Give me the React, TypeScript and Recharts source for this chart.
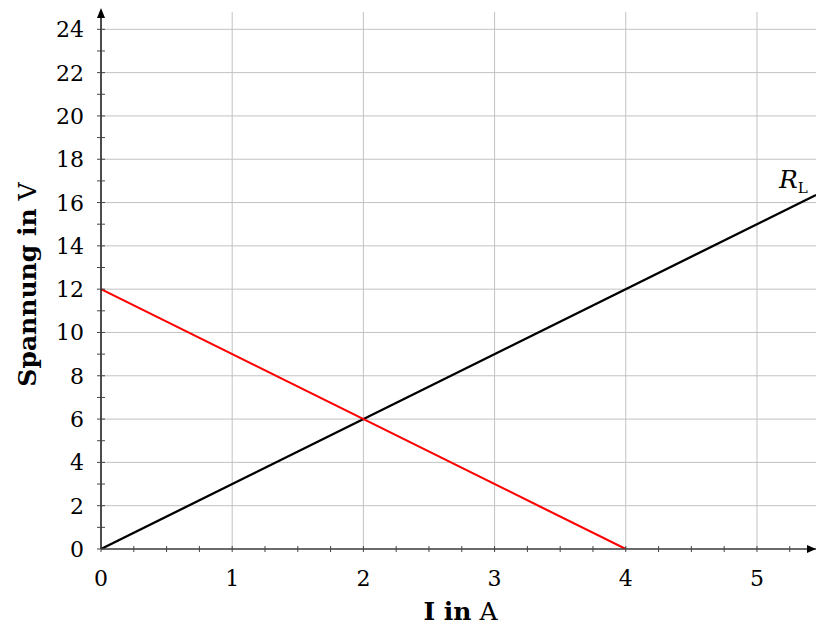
import React from 'react';
import { LineChart, Line, XAxis, YAxis, ReferenceLine, ReferenceDot, Label } from 'recharts';

// Current axis (A): tick positions, labelled ticks and grid positions
const xTickValues = [0, 0.25, 0.5, 0.75, 1, 1.25, 1.5, 1.75, 2, 2.25, 2.5, 2.75, 3, 3.25, 3.5, 3.75, 4, 4.25, 4.5, 4.75, 5, 5.25];
const xLabelValues = [0, 1, 2, 3, 4, 5];
const xGridValues = [1, 2, 3, 4, 5];

// Voltage axis (V)
const yTickValues = [0, 1, 2, 3, 4, 5, 6, 7, 8, 9, 10, 11, 12, 13, 14, 15, 16, 17, 18, 19, 20, 21, 22, 23, 24];
const yLabelValues = [0, 2, 4, 6, 8, 10, 12, 14, 16, 18, 20, 22, 24];
const yGridValues = [2, 4, 6, 8, 10, 12, 14, 16, 18, 20, 22, 24];

const xMax = 5.45;
const yMax = 24.8;

// Load resistor characteristic R_L: U = 3 Ω · I
const loadCurrent = [0, 5.45];
const loadVoltage = [0, 16.35];

// Source characteristic: U0 = 12 V, short-circuit current 4 A
const sourceCurrent = [0, 4];
const sourceVoltage = [12, 0];

const loadData = loadCurrent.map((i, k) => ({ i, u: loadVoltage[k] }));
const sourceData = sourceCurrent.map((i, k) => ({ i, u: sourceVoltage[k] }));

const FONT = '"DejaVu Serif", "Liberation Serif", serif';

const XTick = (props: any) => {
  const { x, y, payload } = props;
  const v = payload.value;
  const labelled = xLabelValues.includes(v);
  return (
    <g>
      <line x1={x} x2={x} y1={y - 3} y2={y + 3} stroke="#444" strokeWidth={1} />
      {labelled && (
        <text x={x} y={y + 37} textAnchor="middle" fontFamily={FONT} fontSize={22} fill="#000">
          {v}
        </text>
      )}
    </g>
  );
};

const YTick = (props: any) => {
  const { x, y, payload } = props;
  const v = payload.value;
  const labelled = yLabelValues.includes(v);
  return (
    <g>
      <line x1={x - 4} x2={x + 4} y1={y} y2={y} stroke="#444" strokeWidth={1} />
      {labelled && (
        <text x={x - 17} y={y + 8} textAnchor="end" fontFamily={FONT} fontSize={22} fill="#000">
          {v}
        </text>
      )}
    </g>
  );
};

const XTitle = (props: any) => {
  const { viewBox } = props;
  const cx = viewBox.x + viewBox.width / 2 + 2;
  return (
    <text x={cx} y={viewBox.y + 71} textAnchor="middle" fontFamily={FONT} fontSize={25} fill="#000">
      <tspan fontWeight="bold">I in</tspan>
      <tspan> A</tspan>
    </text>
  );
};

const YTitle = (props: any) => {
  const { viewBox } = props;
  const cx = 36;
  const cy = viewBox.y + viewBox.height / 2 + 4;
  return (
    <text
      x={cx}
      y={cy}
      textAnchor="middle"
      transform={`rotate(-90 ${cx} ${cy})`}
      fontFamily={FONT}
      fontSize={25}
      fill="#000"
    >
      <tspan fontWeight="bold">Spannung in</tspan>
      <tspan> V</tspan>
    </text>
  );
};

const RightArrow = (props: any) => {
  const { cx, cy } = props;
  return <path d={`M ${cx} ${cy} L ${cx - 9} ${cy - 4} L ${cx - 9} ${cy + 4} Z`} fill="#000" />;
};

const UpArrow = (props: any) => {
  const { cx, cy } = props;
  const tip = cy - 4;
  return <path d={`M ${cx} ${tip} L ${cx - 4} ${tip + 10} L ${cx + 4} ${tip + 10} Z`} fill="#000" />;
};

const LoadLabel = (props: any) => {
  const { viewBox } = props;
  const x = viewBox.x;
  const y = viewBox.y;
  return (
    <text x={x - 37} y={y - 7} fontFamily={FONT} fill="#000">
      <tspan fontStyle="italic" fontSize={25}>R</tspan>
      <tspan fontSize={15} dy={5}>L</tspan>
    </text>
  );
};

export default function App() {
  return (
    <div style={{ position: 'absolute', left: 0, top: 0 }}>
      <LineChart width={816} height={628} margin={{ top: 12, right: 0, bottom: 0, left: 1 }}>
        {xGridValues.map((v) => (
          <ReferenceLine key={`gx${v}`} x={v} stroke="#c2c2c2" strokeWidth={1} />
        ))}
        {yGridValues.map((v) => (
          <ReferenceLine key={`gy${v}`} y={v} stroke="#c2c2c2" strokeWidth={1} />
        ))}
        <XAxis
          type="number"
          dataKey="i"
          domain={[0, xMax]}
          allowDataOverflow
          ticks={xTickValues}
          interval={0}
          height={79}
          tickSize={0}
          tickMargin={0}
          tickLine={false}
          tick={<XTick />}
          axisLine={{ stroke: '#3a3a3a', strokeWidth: 1.6 }}
        >
          <Label content={<XTitle />} />
        </XAxis>
        <YAxis
          type="number"
          dataKey="u"
          domain={[0, yMax]}
          allowDataOverflow
          ticks={yTickValues}
          interval={0}
          width={100}
          tickSize={0}
          tickMargin={0}
          tickLine={false}
          tick={<YTick />}
          axisLine={{ stroke: '#000', strokeWidth: 1.4 }}
        >
          <Label content={<YTitle />} />
        </YAxis>
        <Line
          data={loadData}
          dataKey="u"
          type="linear"
          stroke="#000"
          strokeWidth={2.3}
          dot={false}
          activeDot={false}
          isAnimationActive={false}
        />
        <Line
          data={sourceData}
          dataKey="u"
          type="linear"
          stroke="#ff0000"
          strokeWidth={2.1}
          dot={false}
          activeDot={false}
          isAnimationActive={false}
        />
        <ReferenceDot x={loadCurrent[1]} y={loadVoltage[1]} r={0} fill="none" stroke="none">
          <Label content={<LoadLabel />} />
        </ReferenceDot>
        <ReferenceDot x={xMax} y={0} shape={<RightArrow />} />
        <ReferenceDot x={0} y={yMax} shape={<UpArrow />} />
      </LineChart>
    </div>
  );
}
